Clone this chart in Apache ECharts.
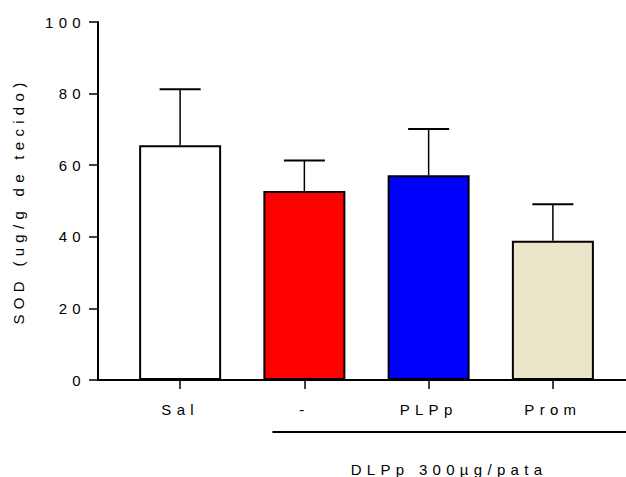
<!DOCTYPE html>
<html>
<head>
<meta charset="utf-8">
<script src="https://cdn.jsdelivr.net/npm/echarts@6/dist/echarts.min.js"></script>
<style>
  html, body { margin: 0; padding: 0; background: #fff; }
  #chart { width: 626px; height: 477px; }
  #chart text { letter-spacing: 5.3px; }
</style>
</head>
<body>
<div id="chart"></div>
<script>
// Data
var categories = ['Sal', '-', 'PLPp', 'Prom'];
var means = [65.6, 52.8, 57.2, 38.9];
var errUpper = [81.2, 61.3, 70.1, 49.1];
var barColors = ['#ffffff', '#ff0000', '#0000ff', '#ebe5c9'];
var yTicks = [0, 20, 40, 60, 80, 100];
var yTitle = 'SOD (ug/g de tecido)';
var groupTitle = 'DLPp 300\u00b5g/pata';

var FONT = "'Liberation Sans', Arial, sans-serif";
var chart = echarts.init(document.getElementById('chart'), null, { renderer: 'svg' });

var barData = means.map(function (v, i) {
  return { value: v, itemStyle: { color: barColors[i] } };
});
var errData = means.map(function (v, i) { return [i, v, errUpper[i]]; });

var option = {
  animation: false,
  backgroundColor: '#ffffff',
  grid: { left: 118, right: 11, top: 22, bottom: 97, containLabel: false },
  xAxis: {
    type: 'category',
    data: categories,
    axisLine: { show: true, lineStyle: { color: '#000', width: 2 } },
    axisTick: { show: true, alignWithLabel: true, length: 9, lineStyle: { color: '#000', width: 1.5 } },
    axisLabel: { color: '#000', fontSize: 15, fontFamily: FONT, margin: 22 },
    splitLine: { show: false }
  },
  yAxis: {
    type: 'value',
    min: yTicks[0],
    max: yTicks[yTicks.length - 1],
    interval: 20,
    offset: 20,
    name: yTitle,
    nameLocation: 'middle',
    nameGap: 72,
    nameTextStyle: { color: '#000', fontSize: 15, fontFamily: FONT },
    axisLine: { show: true, lineStyle: { color: '#000', width: 2 } },
    axisTick: { show: true, length: 9, lineStyle: { color: '#000', width: 1.5 } },
    axisLabel: { color: '#000', fontSize: 15, fontFamily: FONT, margin: 12 },
    splitLine: { show: false }
  },
  series: [
    {
      type: 'bar',
      data: barData,
      barWidth: 82,
      itemStyle: { borderColor: '#000', borderWidth: 2 },
      z: 2
    },
    {
      type: 'custom',
      data: errData,
      z: 3,
      renderItem: function (params, api) {
        var x = api.value(0);
        var lo = api.coord([x, api.value(1)]);
        var hi = api.coord([x, api.value(2)]);
        var half = 20.5;
        return {
          type: 'group',
          children: [
            { type: 'line', shape: { x1: lo[0], y1: lo[1], x2: hi[0], y2: hi[1] }, style: { stroke: '#000', lineWidth: 1.5 } },
            { type: 'line', shape: { x1: hi[0] - half, y1: hi[1], x2: hi[0] + half, y2: hi[1] }, style: { stroke: '#000', lineWidth: 2 } }
          ]
        };
      }
    }
  ]
};
chart.setOption(option);

var y0 = chart.convertToPixel({ yAxisIndex: 0 }, 0);
var redLeft = chart.convertToPixel({ xAxisIndex: 0 }, 1) - 41;
chart.setOption({
  graphic: [
    { type: 'line', shape: { x1: 97, y1: y0, x2: 626, y2: y0 }, style: { stroke: '#000', lineWidth: 2 }, z: 10 },
    { type: 'line', shape: { x1: redLeft + 9, y1: 432, x2: 626, y2: 432 }, style: { stroke: '#000', lineWidth: 2 } },
    { type: 'text', x: 449, y: 469, style: { text: groupTitle, fill: '#000', fontSize: 15, fontFamily: FONT, align: 'center', verticalAlign: 'middle' } }
  ]
});
</script>
</body>
</html>
